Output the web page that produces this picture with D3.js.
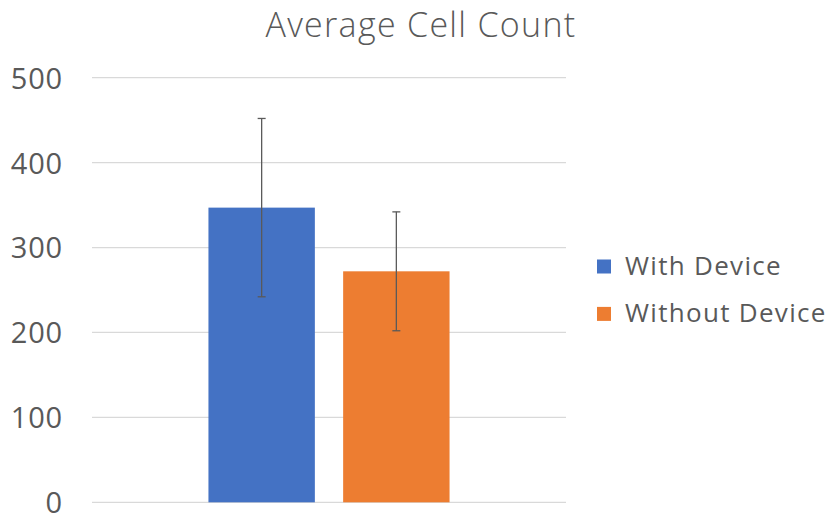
<!DOCTYPE html>
<html><head><meta charset="utf-8">
<script src="https://cdn.jsdelivr.net/npm/d3@7"></script>
<style>body{margin:0;background:#fff;} svg{display:block;}</style>
</head><body>
<svg id="c" width="828" height="515"></svg>
<script>
const title = "Average Cell Count";
const categories = ["Average Cell Count"];
const series = ["With Device", "Without Device"];
const values = [347, 272];
const errors = [105, 70];
const colors = ["#4472C4", "#ED7D31"];
const yTicks = [0, 100, 200, 300, 400, 500];

const svg = d3.select("#c");
const m = {left: 92, right: 566, top: 77.7, bottom: 502.3};
const y = d3.scaleLinear().domain([0, 500]).range([m.bottom, m.top]);
const x0 = d3.scaleBand().domain(categories).range([m.left, m.right]).paddingInner(0).paddingOuter(0.483);
const x1 = d3.scaleBand().domain(series).range([0, x0.bandwidth()]).paddingInner(0.21);

const txt = "#595959";
const font = "'Open Sans', sans-serif";

// gridlines
svg.append("g").selectAll("line").data(yTicks).join("line")
  .attr("x1", m.left).attr("x2", m.right)
  .attr("y1", d => y(d)).attr("y2", d => y(d))
  .attr("stroke", "#d9d9d9").attr("stroke-width", 1.2);

// y labels
const yAxis = d3.axisLeft(y).tickValues(yTicks).tickSize(0).tickPadding(0);
const ag = svg.append("g").attr("transform", `translate(63,0)`).call(yAxis);
ag.select(".domain").remove();
ag.selectAll("text").attr("font-family", font).attr("font-size", 29).attr("letter-spacing", 0.8)
  .attr("fill", txt).attr("dy", "0.36em");

// bars
const g = svg.append("g").attr("transform", `translate(${x0(categories[0])},0)`);
g.selectAll("rect").data(series).join("rect")
  .attr("x", d => x1(d)).attr("width", x1.bandwidth())
  .attr("y", (d, i) => y(values[i])).attr("height", (d, i) => y(0) - y(values[i]))
  .attr("fill", (d, i) => colors[i]);

// error bars
const eb = g.selectAll("g.err").data(series).join("g").attr("class", "err")
  .attr("stroke", "#5a5a5a").attr("stroke-width", 1.3);
eb.append("line").attr("x1", d => x1(d) + x1.bandwidth()/2).attr("x2", d => x1(d) + x1.bandwidth()/2)
  .attr("y1", (d, i) => y(values[i] + errors[i])).attr("y2", (d, i) => y(values[i] - errors[i]));
[1, -1].forEach(s => {
  eb.append("line").attr("x1", d => x1(d) + x1.bandwidth()/2 - 4).attr("x2", d => x1(d) + x1.bandwidth()/2 + 4)
    .attr("y1", (d, i) => y(values[i] + s*errors[i])).attr("y2", (d, i) => y(values[i] + s*errors[i]));
});

// title
svg.append("text").attr("x", 421).attr("y", 37).attr("text-anchor", "middle")
  .attr("font-family", font).attr("font-weight", 300).attr("font-size", 34).attr("letter-spacing", 1.3)
  .attr("fill", txt).text(title);

// legend
const lg = svg.append("g").selectAll("g").data(series).join("g")
  .attr("transform", (d, i) => `translate(597,${259.5 + i*47.4})`);
lg.append("rect").attr("width", 14).attr("height", 14).attr("fill", (d, i) => colors[i]);
lg.append("text").attr("x", 28).attr("y", 15).attr("font-family", font).attr("font-size", 26)
  .attr("letter-spacing", 1.3).attr("fill", txt).text(d => d);
</script>
</body></html>
